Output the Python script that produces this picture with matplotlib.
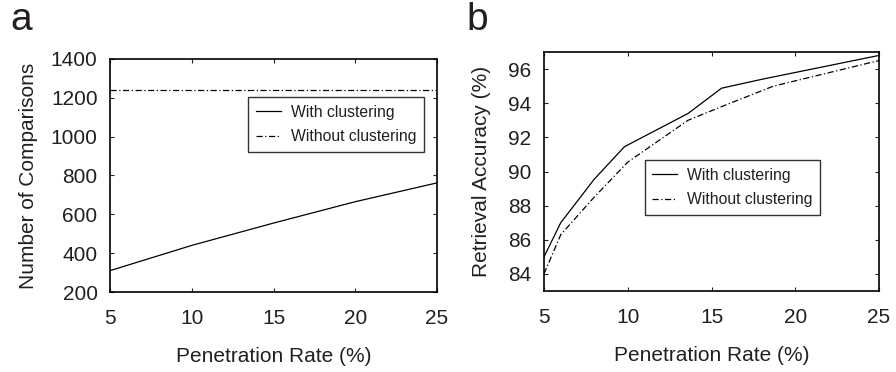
import matplotlib
import matplotlib.pyplot as plt

matplotlib.rcParams["font.family"] = ["Liberation Sans", "DejaVu Sans"]
matplotlib.rcParams["text.color"] = "#231f20"
matplotlib.rcParams["axes.labelcolor"] = "#231f20"
matplotlib.rcParams["xtick.color"] = "#231f20"
matplotlib.rcParams["ytick.color"] = "#231f20"

# panel a: number of comparisons
rate_a = [5, 10, 15, 20, 25]
comp_with = [310, 440, 555, 665, 762]
comp_without = [1240, 1240, 1240, 1240, 1240]

# panel b: retrieval accuracy
rate_b_with = [5, 6, 8, 9.8, 13.6, 15.6, 18, 25]
acc_with = [85.0, 87.0, 89.55, 91.45, 93.4, 94.88, 95.4, 96.8]
rate_b_without = [5, 6, 8, 10, 13.6, 15.6, 18.7, 25]
acc_without = [84.0, 86.3, 88.5, 90.55, 93.0, 93.8, 95.0, 96.5]

dashdot = (0, (5, 2, 1, 2))
lw = 0.9
fs = 15

fig = plt.figure(figsize=(8.96, 3.72), dpi=100)
ax1 = fig.add_axes([110 / 896, 1 - 292 / 372, 327 / 896, 233 / 372])
ax2 = fig.add_axes([544 / 896, 1 - 291 / 372, 335 / 896, 239 / 372])

ax1.plot(rate_a, comp_with, color="black", lw=lw, label="With clustering")
ax1.plot(rate_a, comp_without, color="black", lw=lw, linestyle=dashdot, label="Without clustering")
ax1.set_xlim(5, 25)
ax1.set_ylim(200, 1400)
ax1.set_yticks(range(200, 1401, 200))
ax1.set_ylabel("Number of Comparisons", fontsize=fs, labelpad=9)
ax1.legend(loc="upper right", bbox_to_anchor=(0.96, 0.837), borderaxespad=0, fontsize=11.3,
           frameon=True, fancybox=False, edgecolor="black", handlelength=1.6,
           borderpad=0.5, labelspacing=0.6, handletextpad=0.6)

ax2.plot(rate_b_with, acc_with, color="black", lw=lw, label="With clustering")
ax2.plot(rate_b_without, acc_without, color="black", lw=lw, linestyle=dashdot, label="Without clustering")
ax2.set_xlim(5, 25)
ax2.set_ylim(83, 97)
ax2.set_yticks(range(84, 97, 2))
ax2.set_ylabel("Retrieval Accuracy (%)", fontsize=fs, labelpad=12)
ax2.legend(loc="upper left", bbox_to_anchor=(0.30, 0.548), borderaxespad=0, fontsize=11.3,
           frameon=True, fancybox=False, edgecolor="black", handlelength=1.6,
           borderpad=0.5, labelspacing=0.6, handletextpad=0.6)

for ax in (ax1, ax2):
    ax.set_xticks([5, 10, 15, 20, 25])
    ax.set_xlabel("Penetration Rate (%)", fontsize=fs, labelpad=14)
    ax.tick_params(direction="in", top=True, right=True, labelsize=fs, length=3)
    ax.tick_params(axis="x", pad=12)
    ax.tick_params(axis="y", pad=9)
    for s in ax.spines.values():
        s.set_linewidth(1.2)
    ax.get_legend().get_frame().set_linewidth(1.0)

fig.text(10 / 896, 1 - 30 / 372, "a", fontsize=28)
fig.text(466 / 896, 1 - 30 / 372, "b", fontsize=28)

fig.savefig("out.png", dpi=100, facecolor="white")
